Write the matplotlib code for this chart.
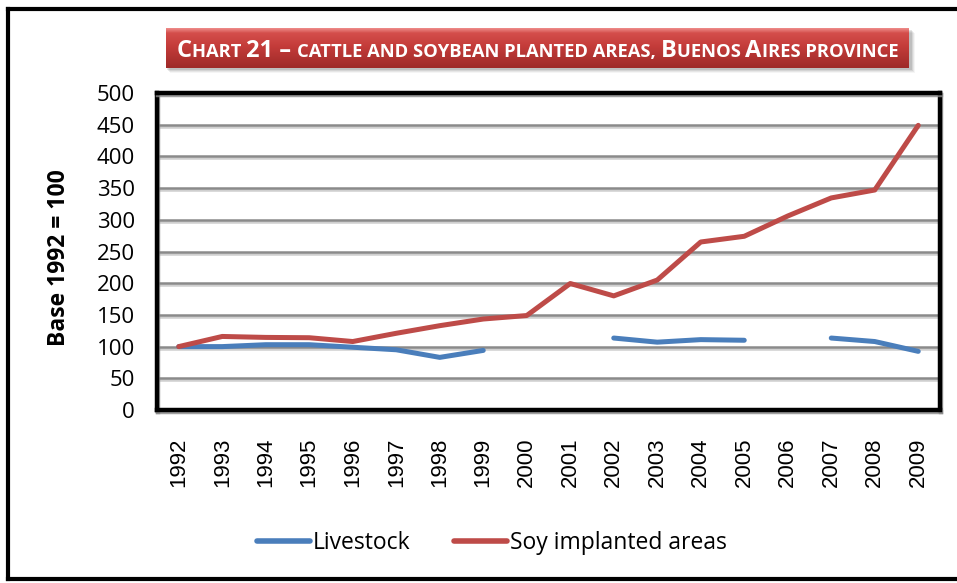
import numpy as np
import matplotlib
matplotlib.use("Agg")
import matplotlib.pyplot as plt
import matplotlib.patheffects as pe
from matplotlib.patches import Rectangle
from matplotlib.lines import Line2D

years = ["1992", "1993", "1994", "1995", "1996", "1997", "1998", "1999", "2000",
         "2001", "2002", "2003", "2004", "2005", "2006", "2007", "2008", "2009"]
livestock = [100, 100, 103, 103, 99, 95, 83, 94, np.nan,
             np.nan, 113.5, 107, 111, 110, np.nan, 113.5, 108, 92.5]
soy = [100, 116, 114.5, 114, 108, 121, 133, 143.5, 149,
       199.5, 180, 205, 265, 274, 306, 334.5, 347, 449]
series_names = ["Livestock", "Soy implanted areas"]
y_label = "Base 1992 = 100"
title_pieces = [("C", 1), ("HART ", 0), ("21 \u2013 ", 1), ("CATTLE AND SOYBEAN PLANTED AREAS, ", 0),
                ("B", 1), ("UENOS ", 0), ("A", 1), ("IRES PROVINCE", 0)]

W, H = 957, 583
fig = plt.figure(figsize=(W / 100, H / 100), dpi=100)
fig.patch.set_facecolor("white")

def fx(px):
    return px / W

def fy(py):
    return 1 - py / H

# outer frame
for xs, ys in [((8, 960), (9, 9)), ((8, 8), (9, 579)), ((8, 960), (579, 579))]:
    fig.add_artist(Line2D([fx(xs[0]), fx(xs[1])], [fy(ys[0]), fy(ys[1])],
                          color="black", lw=3.0, transform=fig.transFigure))

# axes
ax = fig.add_axes([fx(157), fy(410), fx(940) - fx(157), fy(93) - fy(410)])
x = np.arange(len(years))
ax.set_xlim(-0.5, len(years) - 0.5)
ax.set_ylim(0, 500)
ax.set_yticks(np.arange(0, 501, 50))
ax.set_xticks(x)
ax.set_xticklabels(years, rotation=90, family=["Liberation Sans", "DejaVu Sans"], fontsize=16)
for lab in ax.get_yticklabels():
    lab.set_family(["Open Sans", "DejaVu Sans"])
    lab.set_fontsize(16)
ax.tick_params(axis="both", length=0)
ax.tick_params(axis="y", pad=16)
ax.tick_params(axis="x", pad=20)

for v in range(50, 500, 50):
    ax.axhline(v, color="#8a8a8a", lw=1.8, zorder=1,
               path_effects=[pe.SimpleLineShadow(offset=(0, -1.5), shadow_color="#cfcfcf", alpha=1), pe.Normal()])

for sp in ax.spines.values():
    sp.set_linewidth(3.2)
    sp.set_color("black")
    sp.set_path_effects([pe.SimpleLineShadow(offset=(1, -1.2), shadow_color="#888888", alpha=0.8), pe.Normal()])

l1, = ax.plot(x, livestock, color="#4a7ebb", lw=3.6, solid_capstyle="round", zorder=3)
l2, = ax.plot(x, soy, color="#be4b48", lw=3.6, solid_capstyle="round", zorder=3)

fig.text(fx(59), fy(258), y_label, rotation=90, ha="center", va="center",
         family=["Open Sans", "DejaVu Sans"], fontweight="bold", fontsize=16.5)

leg = fig.legend([l1, l2], series_names, loc="center", bbox_to_anchor=(fx(492), fy(543)), ncol=2,
                 frameon=False, prop={"family": ["Open Sans", "DejaVu Sans"], "size": 16.5},
                 handlelength=2.3, handletextpad=0.15, columnspacing=1.9)
for h in leg.legend_handles:
    h.set_linewidth(4)
    h.set_solid_capstyle("round")

# title box with shadow and gradient
bx0, bx1, by0, by1 = 166, 909, 28, 68
for i, a in enumerate([0.10, 0.08, 0.06, 0.04]):
    fig.add_artist(Rectangle((fx(bx0 + 1 + i), fy(by1 + 2 + i)), fx(bx1 - bx0 + 2), fy(0) - fy(by1 - by0),
                             transform=fig.transFigure, facecolor="black", alpha=a, edgecolor="none", zorder=1))
tax = fig.add_axes([fx(bx0), fy(by1), fx(bx1) - fx(bx0), fy(by0) - fy(by1)], zorder=2)
tax.set_axis_off()
grad_pos = [0.0, 0.12, 0.45, 1.0]
top = np.array([0xEE, 0x8A, 0x88]) / 255
c1 = np.array([0xD4, 0x4E, 0x4B]) / 255
c2 = np.array([0xC4, 0x3C, 0x3A]) / 255
bot = np.array([0x9E, 0x2A, 0x28]) / 255
t = np.linspace(0, 1, 60)
cols = np.stack([np.interp(t, grad_pos, [top[k], c1[k], c2[k], bot[k]]) for k in range(3)], axis=1)
img = np.repeat(cols[:, None, :], 4, axis=1)
tax.imshow(img, aspect="auto", extent=[0, 1, 0, 1], origin="upper")
tax.set_xlim(0, 1)
tax.set_ylim(0, 1)

# small caps title
renderer = fig.canvas.get_renderer()
base = 20.0
small_ratio = 0.78
def draw_title(size):
    xpos = 0.0
    texts = []
    for s, big in title_pieces:
        fs = size if big else size * small_ratio
        tt = fig.text(0, 0, s, fontsize=fs, family=["Open Sans", "DejaVu Sans"], fontweight="bold",
                      color="white", va="baseline", ha="left", zorder=5)
        bb = tt.get_window_extent(renderer)
        texts.append((tt, xpos))
        xpos += bb.width
    return texts, xpos

texts, total = draw_title(base)
for tt, _ in texts:
    tt.remove()
target = 722.0
size = base * target / total
texts, total = draw_title(size)
start = (bx0 + bx1) / 2 - total / 2
baseline = 57
for tt, xp in texts:
    tt.set_position((fx(start + xp), fy(baseline)))

fig.savefig("out.png", dpi=100, facecolor="white")
